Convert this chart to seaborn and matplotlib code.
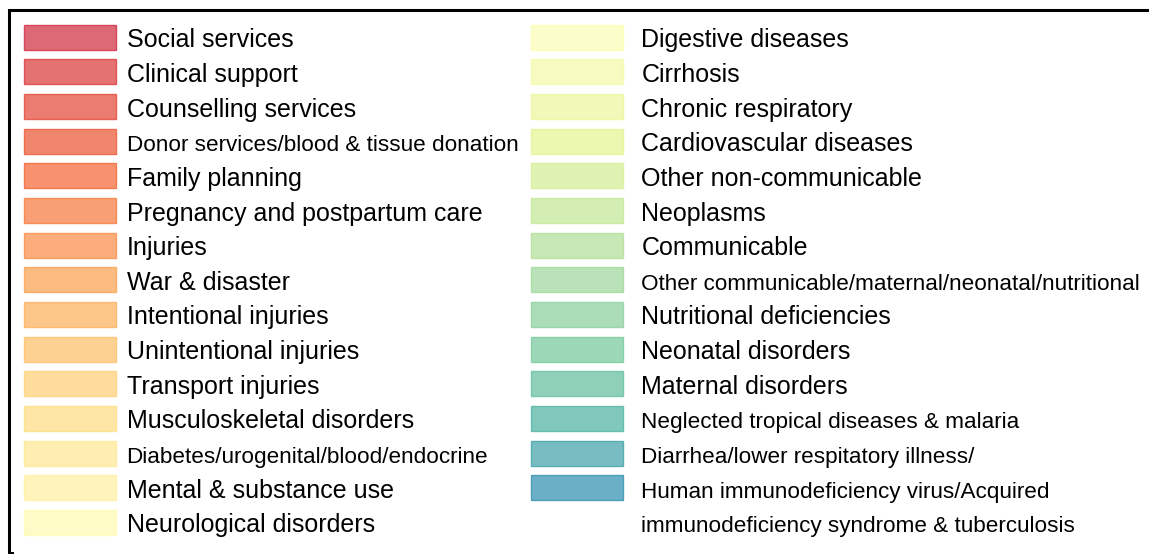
import matplotlib
matplotlib.use("Agg")
import matplotlib.pyplot as plt
import matplotlib.patches as mpatches
from matplotlib.path import Path
from matplotlib.legend_handler import HandlerPatch
import seaborn as sns

# ---- data ----
left_labels = [
    "Social services",
    "Clinical support",
    "Counselling services",
    "Donor services/blood & tissue donation",
    "Family planning",
    "Pregnancy and postpartum care",
    "Injuries",
    "War & disaster",
    "Intentional injuries",
    "Unintentional injuries",
    "Transport injuries",
    "Musculoskeletal disorders",
    "Diabetes/urogenital/blood/endocrine",
    "Mental & substance use",
    "Neurological disorders",
]
right_labels = [
    "Digestive diseases",
    "Cirrhosis",
    "Chronic respiratory",
    "Cardiovascular diseases",
    "Other non-communicable",
    "Neoplasms",
    "Communicable",
    "Other communicable/maternal/neonatal/nutritional",
    "Nutritional deficiencies",
    "Neonatal disorders",
    "Maternal disorders",
    "Neglected tropical diseases & malaria",
    "Diarrhea/lower respitatory illness/",
    "Human immunodeficiency virus/Acquired",
]
wrap_line = "immunodeficiency syndrome & tuberculosis"
small_labels = [
    "Donor services/blood & tissue donation",
    "Diabetes/urogenital/blood/endocrine",
    "Other communicable/maternal/neonatal/nutritional",
    "Neglected tropical diseases & malaria",
    "Diarrhea/lower respitatory illness/",
    "Human immunodeficiency virus/Acquired",
    "immunodeficiency syndrome & tuberculosis",
]

categories = left_labels + right_labels

# ---- style ----
sns.set_theme(style="white")
plt.rcParams['font.family'] = ['Liberation Sans', 'DejaVu Sans']

cmap = sns.color_palette("Spectral", as_cmap=True)
n = len(categories)
colors = [cmap(0.1 + 0.77 * i / (n - 1)) for i in range(n)]

W, H = 1149, 554
fig = plt.figure(figsize=(W / 100, H / 100), dpi=100)
ax = fig.add_axes([0, 0, 1, 1])
ax.set_axis_off()

handles = [
    mpatches.Patch(facecolor=(*c[:3], 0.78), edgecolor=(*c[:3], 0.9),
                   linewidth=1.0, label=lab)
    for c, lab in zip(colors, categories)
]
handles.append(mpatches.Patch(facecolor='none', edgecolor='none',
                              linewidth=0, label=wrap_line))


def make_patch(legend, orig_handle, xdescent, ydescent, width, height, fontsize):
    return mpatches.Rectangle((-xdescent, -0.1 * fontsize), width, fontsize)


leg = ax.legend(
    handles=handles, ncol=2, loc='upper left',
    bbox_to_anchor=(8.5 / W, 1 - 9.5 / H), bbox_transform=fig.transFigure,
    borderaxespad=0, fontsize=18, handlelength=3.68, handleheight=1.4,
    handletextpad=0.44, labelspacing=0.231, columnspacing=0.52, borderpad=0.6,
    frameon=True, fancybox=False, framealpha=1, edgecolor='black',
    labelcolor='black',
    handler_map={mpatches.Patch: HandlerPatch(patch_func=make_patch)},
)
frame = leg.get_frame()
frame.set_linewidth(2.2)
# the box runs past the bottom/right edge of the picture: hide its bottom side
clip = Path([(0, 0), (14 / W, 0), (14 / W, 5 / H), (1, 5 / H), (1, 1), (0, 1), (0, 0)],
            closed=True)
frame.set_clip_path(clip, fig.transFigure)

for t in leg.get_texts():
    if t.get_text() in small_labels:
        t.set_fontsize(16.2)

# right column: label text sits a little further from its swatch
columns = leg._legend_handle_box.get_children()
for row in columns[1].get_children():
    row.sep = 13.0

fig.savefig("out.png", dpi=100)
